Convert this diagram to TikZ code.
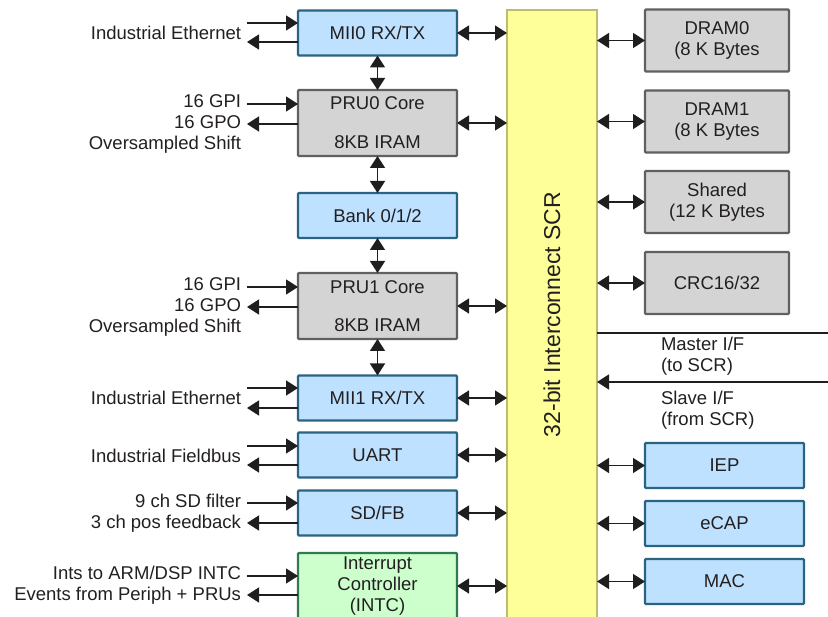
\documentclass[tikz,border=0pt]{standalone}
\usepackage{fontspec}
\setmainfont{Liberation Sans}
\usetikzlibrary{arrows.meta}
\definecolor{txt}{HTML}{231F20}
\definecolor{bluefill}{HTML}{BDE1FF}
\definecolor{blueline}{HTML}{2B6382}
\definecolor{grayfill}{HTML}{D4D4D4}
\definecolor{grayline}{HTML}{606060}
\definecolor{greenfill}{HTML}{CCFFCC}
\definecolor{greenline}{HTML}{2F7A50}
\definecolor{yelfill}{HTML}{FFFF99}
\definecolor{yelline}{HTML}{BDBD6B}
\definecolor{wire}{HTML}{1E1E1E}
\begin{document}
\begin{tikzpicture}[x=1pt,y=-1pt,
  >={Triangle[length=12pt,width=15pt]},
  every node/.style={text=txt, font=\fontsize{18.5}{21}\selectfont, inner sep=0pt, outer sep=0pt},
  blk/.style={draw, line width=2.4pt, rounded corners=1pt, minimum width=159pt, align=center},
  bluebox/.style={blk, draw=blueline, fill=bluefill, minimum height=45pt},
  graybox/.style={blk, draw=grayline, fill=grayfill},
  greenbox/.style={blk, draw=greenline, fill=greenfill},
  rbox/.style={draw=grayline, fill=grayfill, line width=2.4pt, rounded corners=1pt, minimum width=144pt, minimum height=62pt, align=center},
  rbbox/.style={draw=blueline, fill=bluefill, line width=2.4pt, rounded corners=1pt, minimum width=159pt, minimum height=45pt, align=center},
  lbl/.style={anchor=east, align=right},
  wr/.style={draw=wire, line width=1.5pt},
  arr/.style={wr, ->},
  barr/.style={wr, <->}
]
\useasboundingbox (0,0) rectangle (828,617);
\clip (0,0) rectangle (828,617);

% SCR
\node[draw=yelline, fill=yelfill, line width=2.4pt, minimum width=90pt, minimum height=625pt] (scr) at (552,322.5) {};
\node[rotate=90, font=\fontsize{23}{26}\selectfont] (scrt) at (552,314.5) {32-bit Interconnect SCR};

% left column
\node[bluebox] (mii0) at (377.5,33) {MII0 RX/TX};
\node[graybox, minimum height=66pt] (pru0) at (377.5,123) {PRU0 Core\\[18pt]8KB IRAM};
\node[bluebox] (bank) at (377.5,215.5) {Bank 0/1/2};
\node[graybox, minimum height=66pt] (pru1) at (377.5,306) {PRU1 Core\\[17pt]8KB IRAM};
\node[bluebox] (mii1) at (377.5,398) {MII1 RX/TX};
\node[bluebox] (uart) at (377.5,455) {UART};
\node[bluebox] (sdfb) at (377.5,513) {SD/FB};
\node[greenbox, minimum height=66pt] (intc) at (377.5,586) {Interrupt\\Controller\\(INTC)};

% right column
\node[rbox] (dram0) at (717,40.5) {DRAM0\\(8 K Bytes};
\node[rbox] (dram1) at (717,121.5) {DRAM1\\(8 K Bytes};
\node[rbox] (shared) at (717,202) {Shared\\(12 K Bytes};
\node[rbox] (crc) at (717,283) {CRC16/32};
\node[rbbox] (iep) at (724.5,465.5) {IEP};
\node[rbbox] (ecap) at (724.5,523.5) {eCAP};
\node[rbbox] (mac) at (724.5,581.5) {MAC};

% vertical links
\draw[barr] (mii0) -- (pru0);
\draw[barr] (pru0) -- (bank);
\draw[barr] (bank) -- (pru1);
\draw[barr] (pru1) -- (mii1);

% links to SCR (left)
\foreach \n in {mii0,pru0,pru1,mii1,uart,sdfb,intc}
  \draw[barr] (\n.east) -- (\n.east -| scr.west);
% links to SCR (right)
\foreach \n in {dram0,dram1,shared,crc,iep,ecap,mac}
  \draw[barr] (\n.west) -- (\n.west -| scr.east);

% master / slave interfaces
\coordinate (mEnd) at (828,333);
\coordinate (sEnd) at (828,382);
\draw[wr] (mEnd -| scr.east) -- (mEnd);
\draw[arr] (sEnd) -- (sEnd -| scr.east);
\node[anchor=west, align=left] (mtxt) at (661,356.5) {Master I/F\\(to SCR)};
\node[anchor=west, align=left] (stxt) at (661,410) {Slave I/F\\(from SCR)};

% left external signals
\foreach \n/\yi/\yo in {mii0/23/42, pru0/104/124, pru1/287/307, mii1/388/408, uart/446/465, sdfb/503/523, intc/576/595}{
  \coordinate (\n in) at (247,\yi);
  \coordinate (\n out) at (247,\yo);
  \draw[arr] (\n in) -- (\n in -| \n.west);
  \draw[arr] (\n out -| \n.west) -- (\n out);
}
\node[lbl] (t1) at (241,33) {Industrial Ethernet};
\node[lbl] (t2) at (241,124) {16 GPI\\16 GPO\\Oversampled Shift};
\node[lbl] (t3) at (241,307) {16 GPI\\16 GPO\\Oversampled Shift};
\node[lbl] (t4) at (241,398) {Industrial Ethernet};
\node[lbl] (t5) at (241,456) {Industrial Fieldbus};
\node[lbl] (t6) at (241,513) {9 ch SD filter\\3 ch pos feedback};
\node[lbl] (t7) at (241,585.5) {Ints to ARM/DSP INTC\\Events from Periph + PRUs};
\end{tikzpicture}
\end{document}
